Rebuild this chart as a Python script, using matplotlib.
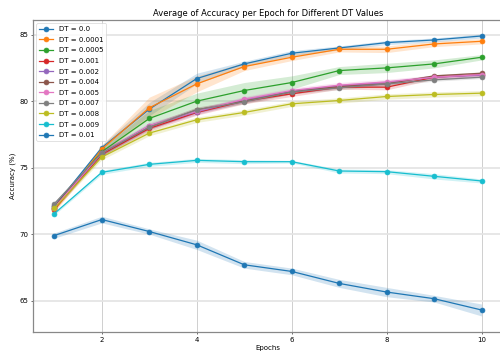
import numpy as np
import matplotlib
matplotlib.use("Agg")
import matplotlib.pyplot as plt

# Mean accuracy per epoch for each DT setting, with the spread across runs
epochs = [1, 2, 3, 4, 5, 6, 7, 8, 9, 10]
dt_labels = ["0.0", "0.0001", "0.0005", "0.001", "0.002", "0.004",
             "0.005", "0.007", "0.008", "0.009", "0.01"]

acc_dt_0 = [72.1, 76.5, 79.4, 81.7, 82.8, 83.6, 84.0, 84.4, 84.6, 84.9]
acc_dt_00001 = [71.8, 76.4, 79.5, 81.3, 82.6, 83.3, 83.9, 83.9, 84.3, 84.5]
acc_dt_00005 = [72.0, 76.2, 78.7, 80.0, 80.8, 81.4, 82.3, 82.5, 82.8, 83.3]
acc_dt_0001 = [71.9, 76.0, 77.95, 79.15, 80.0, 80.55, 81.05, 81.05, 81.8, 82.0]
acc_dt_0002 = [72.0, 76.1, 78.15, 79.2, 80.1, 80.75, 81.15, 81.4, 81.8, 81.95]
acc_dt_0004 = [72.1, 76.1, 78.05, 79.35, 80.0, 80.7, 81.1, 81.3, 81.9, 82.1]
acc_dt_0005 = [72.0, 76.1, 78.15, 79.25, 80.15, 80.8, 81.2, 81.45, 81.8, 82.0]
acc_dt_0007 = [72.3, 76.1, 78.05, 79.35, 79.95, 80.7, 81.0, 81.3, 81.6, 81.8]
acc_dt_0008 = [71.95, 75.8, 77.6, 78.6, 79.15, 79.8, 80.05, 80.35, 80.5, 80.6]
acc_dt_0009 = [71.55, 74.65, 75.25, 75.55, 75.45, 75.45, 74.75, 74.7, 74.35, 74.0]
acc_dt_001 = [69.9, 71.1, 70.2, 69.2, 67.7, 67.2, 66.3, 65.65, 65.15, 64.3]

std_dt_0 = [0.1, 0.2, 0.5, 0.4, 0.2, 0.2, 0.15, 0.15, 0.15, 0.15]
std_dt_00001 = [0.15, 0.3, 0.8, 0.6, 0.3, 0.25, 0.2, 0.25, 0.2, 0.2]
std_dt_00005 = [0.1, 0.3, 0.6, 0.6, 0.6, 0.5, 0.3, 0.35, 0.3, 0.2]
std_dt_0001 = [0.1, 0.2, 0.2, 0.2, 0.2, 0.2, 0.15, 0.2, 0.15, 0.15]
std_dt_0002 = [0.1, 0.2, 0.2, 0.2, 0.2, 0.15, 0.15, 0.15, 0.15, 0.1]
std_dt_0004 = [0.1, 0.2, 0.2, 0.2, 0.15, 0.15, 0.15, 0.15, 0.1, 0.1]
std_dt_0005 = [0.1, 0.2, 0.25, 0.2, 0.2, 0.2, 0.2, 0.2, 0.15, 0.1]
std_dt_0007 = [0.1, 0.2, 0.2, 0.2, 0.15, 0.15, 0.15, 0.15, 0.1, 0.1]
std_dt_0008 = [0.1, 0.2, 0.2, 0.2, 0.2, 0.2, 0.2, 0.2, 0.2, 0.2]
std_dt_0009 = [0.1, 0.15, 0.15, 0.15, 0.15, 0.1, 0.15, 0.15, 0.2, 0.15]
std_dt_001 = [0.2, 0.25, 0.2, 0.35, 0.25, 0.25, 0.3, 0.35, 0.25, 0.45]

means = [acc_dt_0, acc_dt_00001, acc_dt_00005, acc_dt_0001, acc_dt_0002,
         acc_dt_0004, acc_dt_0005, acc_dt_0007, acc_dt_0008, acc_dt_0009,
         acc_dt_001]
stds = [std_dt_0, std_dt_00001, std_dt_00005, std_dt_0001, std_dt_0002,
        std_dt_0004, std_dt_0005, std_dt_0007, std_dt_0008, std_dt_0009,
        std_dt_001]

fig = plt.figure(figsize=(10, 7.08), dpi=50)
ax = fig.add_axes([0.066, 0.063, 0.94, 0.8805])

colors = plt.rcParams["axes.prop_cycle"].by_key()["color"]
for i, (label, m, s) in enumerate(zip(dt_labels, means, stds)):
    m = np.array(m)
    s = np.array(s)
    c = colors[i % len(colors)]
    ax.plot(epochs, m, marker="o", markersize=7, linewidth=1.8, color=c,
            label=f"DT = {label}")
    ax.fill_between(epochs, m - s, m + s, color=c, alpha=0.2, linewidth=0)

ax.set_title("Average of Accuracy per Epoch for Different DT Values")
ax.set_xlabel("Epochs")
ax.set_ylabel("Accuracy (%)")
ax.set_xlim(0.55, 10.45)
ax.set_ylim(62.67, 86.1)
ax.set_xticks([2, 4, 6, 8, 10])
ax.set_yticks([65, 70, 75, 80, 85])

# light wide horizontal grid, thinner darker vertical grid
ax.grid(True, axis="y", color="#e4e4e4", linewidth=2.5)
ax.grid(True, axis="x", color="#c8c8c8", linewidth=1.2)
ax.set_axisbelow(True)
for side in ["left", "bottom", "top", "right"]:
    ax.spines[side].set_color("#888888")
    ax.spines[side].set_linewidth(1.8)

ax.legend(loc="upper left", fontsize=10, labelspacing=0.66)

fig.savefig("out.png", dpi=50)
